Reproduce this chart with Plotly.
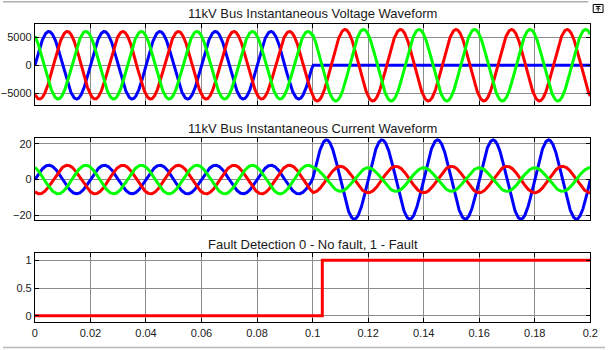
import numpy as np
import plotly.graph_objects as go

# --- Signal parameters for the three-phase bus (50 Hz system) ---
phase_names = ["Phase A", "Phase B", "Phase C"]
phase_colors = ["#0000ff", "#ff0000", "#00ff00"]
phase_angle_deg = [0.0, -120.0, 120.0]

frequency_hz = 50.0
fault_time = 0.1
t_end = 0.2

# voltage amplitudes (V): before / after the phase-A fault
voltage_amp_pre = [6000.0, 6000.0, 6000.0]
voltage_amp_post = [0.0, 6350.0, 6350.0]
voltage_angle_post_deg = [0.0, -120.0, 120.0]

# current amplitudes (A): before / after the fault
current_amp_pre = [8.0, 8.0, 8.0]
current_amp_post = [22.2, 7.4, 6.6]
current_angle_post_deg = [0.0, -90.0, 90.0]

# fault detection flag (step signal)
detect_time = [0.0, 0.1035, 0.2]
detect_value = [0, 1, 1]

x_ticks = [0, 0.02, 0.04, 0.06, 0.08, 0.1, 0.12, 0.14, 0.16, 0.18, 0.2]
x_tick_text = ["0", "0.02", "0.04", "0.06", "0.08", "0.1", "0.12", "0.14", "0.16", "0.18", "0.2"]

t = np.linspace(0.0, t_end, 4001)
w = 2 * np.pi * frequency_hz


def waveform(a_pre, ang_pre, a_post, ang_post):
    pre = a_pre * np.sin(w * t + np.deg2rad(ang_pre))
    post = a_post * np.sin(w * t + np.deg2rad(ang_post))
    return np.where(t < fault_time, pre, post)


fig = go.Figure()

for i in range(3):
    v = waveform(voltage_amp_pre[i], phase_angle_deg[i],
                 voltage_amp_post[i], voltage_angle_post_deg[i])
    fig.add_trace(go.Scatter(x=t, y=v, mode="lines", name=phase_names[i],
                             line=dict(color=phase_colors[i], width=3),
                             xaxis="x", yaxis="y", showlegend=False))

for i in range(3):
    c = waveform(current_amp_pre[i], phase_angle_deg[i],
                 current_amp_post[i], current_angle_post_deg[i])
    fig.add_trace(go.Scatter(x=t, y=c, mode="lines", name=phase_names[i],
                             line=dict(color=phase_colors[i], width=3),
                             xaxis="x2", yaxis="y2", showlegend=False))

fig.add_trace(go.Scatter(x=detect_time, y=detect_value, mode="lines",
                         line=dict(color="#ff0000", width=3, shape="hv"),
                         xaxis="x3", yaxis="y3", showlegend=False))

W, H = 613, 350
x_dom = [32.5 / W, 598 / W]


def ydom(top_px, bottom_px):
    return [1 - bottom_px / H, 1 - top_px / H]


axis_common = dict(
    showline=True, linecolor="black", linewidth=1, mirror="allticks",
    ticks="inside", ticklen=4, tickcolor="black",
    showgrid=True, gridcolor="#8c8c8c", gridwidth=1,
    zeroline=False,
    tickfont=dict(family="Liberation Sans, Arial, sans-serif", size=11, color="#202020"),
)

xaxis_common = dict(axis_common, range=[0, t_end], tickvals=x_ticks, ticktext=x_tick_text)

layout = dict(
    width=W, height=H,
    margin=dict(l=0, r=0, t=0, b=0),
    paper_bgcolor="white", plot_bgcolor="white",
    xaxis=dict(xaxis_common, domain=x_dom, anchor="y", showticklabels=False),
    yaxis=dict(axis_common, domain=ydom(24, 105), anchor="x",
               range=[-7000, 7330], tickvals=[-5000, 0, 5000]),
    xaxis2=dict(xaxis_common, domain=x_dom, anchor="y2", showticklabels=False),
    yaxis2=dict(axis_common, domain=ydom(138.3, 220.7), anchor="x2",
                range=[-22.7, 23.3], tickvals=[-20, 0, 20]),
    xaxis3=dict(xaxis_common, domain=x_dom, anchor="y3", showticklabels=True),
    yaxis3=dict(axis_common, domain=ydom(254, 323.3), anchor="x3",
                range=[-0.12, 1.127], tickvals=[0, 0.5, 1]),
)
fig.update_layout(**layout)

title_font = dict(family="Liberation Sans, Arial, sans-serif", size=13, color="#1a1a1a")
titles = [
    ("11kV Bus Instantaneous Voltage Waveform", 13.5),
    ("11kV Bus Instantaneous Current Waveform", 128.5),
    ("Fault Detection 0 - No fault, 1 - Fault", 245),
]
for text, ypx in titles:
    fig.add_annotation(text=text, x=(x_dom[0] + x_dom[1]) / 2, y=1 - ypx / H,
                       xref="paper", yref="paper", showarrow=False,
                       xanchor="center", yanchor="middle", font=title_font)

# window frame lines and the small restore button in the corner
shapes = [
    dict(type="line", xref="paper", yref="paper", x0=0, x1=596 / W,
         y0=1 - 1.7 / H, y1=1 - 1.7 / H, line=dict(color="#b0b0b0", width=1.5)),
    dict(type="line", xref="paper", yref="paper", x0=0, x1=1,
         y0=1 - 348.5 / H, y1=1 - 348.5 / H, line=dict(color="#b8b8b8", width=1.5)),
    dict(type="rect", xref="paper", yref="paper", x0=601 / W, x1=611 / W,
         y0=1 - 12.5 / H, y1=1 - 4.5 / H, line=dict(color="black", width=1)),
    dict(type="line", xref="paper", yref="paper", x0=603.5 / W, x1=608.5 / W,
         y0=1 - 6.5 / H, y1=1 - 6.5 / H, line=dict(color="black", width=1)),
    dict(type="line", xref="paper", yref="paper", x0=606 / W, x1=606 / W,
         y0=1 - 11.5 / H, y1=1 - 7.5 / H, line=dict(color="black", width=1)),
    dict(type="path", xref="paper", yref="paper",
         path=f"M {604 / W} {1 - 9.5 / H} L {606 / W} {1 - 7.5 / H} L {608 / W} {1 - 9.5 / H}",
         line=dict(color="black", width=1)),
]
fig.update_layout(shapes=shapes)

fig.write_html("out.html")
